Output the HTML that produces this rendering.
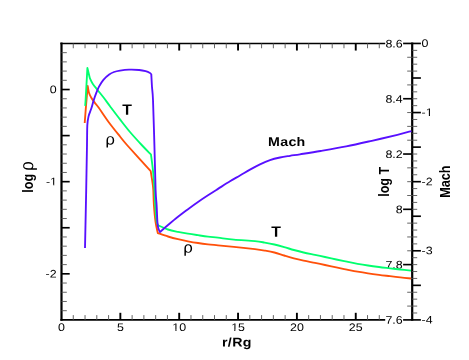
<!DOCTYPE html>
<html><head><meta charset="utf-8"><title>plot</title>
<style>html,body{margin:0;padding:0;background:#fff}svg{display:block;will-change:transform}text{font-family:"Liberation Sans",sans-serif;fill:#000}</style></head><body>
<svg width="469" height="360" viewBox="0 0 469 360">
<rect width="469" height="360" fill="#fff"/>
<line x1="61.50" y1="42.58" x2="61.50" y2="320.77" stroke="#000" stroke-width="2.2"/>
<line x1="412.20" y1="42.58" x2="412.20" y2="320.77" stroke="#000" stroke-width="2.2"/>
<line x1="60.40" y1="43.50" x2="385.20" y2="43.50" stroke="#000" stroke-width="1.5"/>
<line x1="60.40" y1="319.90" x2="385.20" y2="319.90" stroke="#000" stroke-width="1.75"/>
<line x1="73.27" y1="319.90" x2="73.27" y2="315.10" stroke="#555" stroke-width="0.9"/>
<line x1="73.27" y1="43.45" x2="73.27" y2="48.25" stroke="#555" stroke-width="0.9"/>
<line x1="85.04" y1="319.90" x2="85.04" y2="315.10" stroke="#555" stroke-width="0.9"/>
<line x1="85.04" y1="43.45" x2="85.04" y2="48.25" stroke="#555" stroke-width="0.9"/>
<line x1="96.81" y1="319.90" x2="96.81" y2="315.10" stroke="#555" stroke-width="0.9"/>
<line x1="96.81" y1="43.45" x2="96.81" y2="48.25" stroke="#555" stroke-width="0.9"/>
<line x1="108.58" y1="319.90" x2="108.58" y2="315.10" stroke="#555" stroke-width="0.9"/>
<line x1="108.58" y1="43.45" x2="108.58" y2="48.25" stroke="#555" stroke-width="0.9"/>
<line x1="120.35" y1="319.90" x2="120.35" y2="312.80" stroke="#000" stroke-width="1.9"/>
<line x1="120.35" y1="43.45" x2="120.35" y2="50.55" stroke="#000" stroke-width="1.9"/>
<line x1="132.12" y1="319.90" x2="132.12" y2="315.10" stroke="#555" stroke-width="0.9"/>
<line x1="132.12" y1="43.45" x2="132.12" y2="48.25" stroke="#555" stroke-width="0.9"/>
<line x1="143.89" y1="319.90" x2="143.89" y2="315.10" stroke="#555" stroke-width="0.9"/>
<line x1="143.89" y1="43.45" x2="143.89" y2="48.25" stroke="#555" stroke-width="0.9"/>
<line x1="155.66" y1="319.90" x2="155.66" y2="315.10" stroke="#555" stroke-width="0.9"/>
<line x1="155.66" y1="43.45" x2="155.66" y2="48.25" stroke="#555" stroke-width="0.9"/>
<line x1="167.43" y1="319.90" x2="167.43" y2="315.10" stroke="#555" stroke-width="0.9"/>
<line x1="167.43" y1="43.45" x2="167.43" y2="48.25" stroke="#555" stroke-width="0.9"/>
<line x1="179.20" y1="319.90" x2="179.20" y2="312.80" stroke="#000" stroke-width="1.9"/>
<line x1="179.20" y1="43.45" x2="179.20" y2="50.55" stroke="#000" stroke-width="1.9"/>
<line x1="190.97" y1="319.90" x2="190.97" y2="315.10" stroke="#555" stroke-width="0.9"/>
<line x1="190.97" y1="43.45" x2="190.97" y2="48.25" stroke="#555" stroke-width="0.9"/>
<line x1="202.74" y1="319.90" x2="202.74" y2="315.10" stroke="#555" stroke-width="0.9"/>
<line x1="202.74" y1="43.45" x2="202.74" y2="48.25" stroke="#555" stroke-width="0.9"/>
<line x1="214.51" y1="319.90" x2="214.51" y2="315.10" stroke="#555" stroke-width="0.9"/>
<line x1="214.51" y1="43.45" x2="214.51" y2="48.25" stroke="#555" stroke-width="0.9"/>
<line x1="226.28" y1="319.90" x2="226.28" y2="315.10" stroke="#555" stroke-width="0.9"/>
<line x1="226.28" y1="43.45" x2="226.28" y2="48.25" stroke="#555" stroke-width="0.9"/>
<line x1="238.05" y1="319.90" x2="238.05" y2="312.80" stroke="#000" stroke-width="1.9"/>
<line x1="238.05" y1="43.45" x2="238.05" y2="50.55" stroke="#000" stroke-width="1.9"/>
<line x1="249.82" y1="319.90" x2="249.82" y2="315.10" stroke="#555" stroke-width="0.9"/>
<line x1="249.82" y1="43.45" x2="249.82" y2="48.25" stroke="#555" stroke-width="0.9"/>
<line x1="261.59" y1="319.90" x2="261.59" y2="315.10" stroke="#555" stroke-width="0.9"/>
<line x1="261.59" y1="43.45" x2="261.59" y2="48.25" stroke="#555" stroke-width="0.9"/>
<line x1="273.36" y1="319.90" x2="273.36" y2="315.10" stroke="#555" stroke-width="0.9"/>
<line x1="273.36" y1="43.45" x2="273.36" y2="48.25" stroke="#555" stroke-width="0.9"/>
<line x1="285.13" y1="319.90" x2="285.13" y2="315.10" stroke="#555" stroke-width="0.9"/>
<line x1="285.13" y1="43.45" x2="285.13" y2="48.25" stroke="#555" stroke-width="0.9"/>
<line x1="296.90" y1="319.90" x2="296.90" y2="312.80" stroke="#000" stroke-width="1.9"/>
<line x1="296.90" y1="43.45" x2="296.90" y2="50.55" stroke="#000" stroke-width="1.9"/>
<line x1="308.67" y1="319.90" x2="308.67" y2="315.10" stroke="#555" stroke-width="0.9"/>
<line x1="308.67" y1="43.45" x2="308.67" y2="48.25" stroke="#555" stroke-width="0.9"/>
<line x1="320.44" y1="319.90" x2="320.44" y2="315.10" stroke="#555" stroke-width="0.9"/>
<line x1="320.44" y1="43.45" x2="320.44" y2="48.25" stroke="#555" stroke-width="0.9"/>
<line x1="332.21" y1="319.90" x2="332.21" y2="315.10" stroke="#555" stroke-width="0.9"/>
<line x1="332.21" y1="43.45" x2="332.21" y2="48.25" stroke="#555" stroke-width="0.9"/>
<line x1="343.98" y1="319.90" x2="343.98" y2="315.10" stroke="#555" stroke-width="0.9"/>
<line x1="343.98" y1="43.45" x2="343.98" y2="48.25" stroke="#555" stroke-width="0.9"/>
<line x1="355.75" y1="319.90" x2="355.75" y2="312.80" stroke="#000" stroke-width="1.9"/>
<line x1="355.75" y1="43.45" x2="355.75" y2="50.55" stroke="#000" stroke-width="1.9"/>
<line x1="367.52" y1="319.90" x2="367.52" y2="315.10" stroke="#555" stroke-width="0.9"/>
<line x1="367.52" y1="43.45" x2="367.52" y2="48.25" stroke="#555" stroke-width="0.9"/>
<line x1="379.29" y1="319.90" x2="379.29" y2="315.10" stroke="#555" stroke-width="0.9"/>
<line x1="379.29" y1="43.45" x2="379.29" y2="48.25" stroke="#555" stroke-width="0.9"/>
<line x1="61.50" y1="52.67" x2="66.80" y2="52.67" stroke="#555" stroke-width="0.9"/>
<line x1="61.50" y1="61.88" x2="66.80" y2="61.88" stroke="#555" stroke-width="0.9"/>
<line x1="61.50" y1="71.09" x2="66.80" y2="71.09" stroke="#555" stroke-width="0.9"/>
<line x1="61.50" y1="80.31" x2="66.80" y2="80.31" stroke="#555" stroke-width="0.9"/>
<line x1="61.50" y1="89.53" x2="69.70" y2="89.53" stroke="#000" stroke-width="1.65"/>
<line x1="61.50" y1="98.74" x2="66.80" y2="98.74" stroke="#555" stroke-width="0.9"/>
<line x1="61.50" y1="107.95" x2="66.80" y2="107.95" stroke="#555" stroke-width="0.9"/>
<line x1="61.50" y1="117.17" x2="66.80" y2="117.17" stroke="#555" stroke-width="0.9"/>
<line x1="61.50" y1="126.38" x2="66.80" y2="126.38" stroke="#555" stroke-width="0.9"/>
<line x1="61.50" y1="135.60" x2="69.70" y2="135.60" stroke="#000" stroke-width="1.65"/>
<line x1="61.50" y1="144.81" x2="66.80" y2="144.81" stroke="#555" stroke-width="0.9"/>
<line x1="61.50" y1="154.03" x2="66.80" y2="154.03" stroke="#555" stroke-width="0.9"/>
<line x1="61.50" y1="163.25" x2="66.80" y2="163.25" stroke="#555" stroke-width="0.9"/>
<line x1="61.50" y1="172.46" x2="66.80" y2="172.46" stroke="#555" stroke-width="0.9"/>
<line x1="61.50" y1="181.67" x2="69.70" y2="181.67" stroke="#000" stroke-width="1.65"/>
<line x1="61.50" y1="190.89" x2="66.80" y2="190.89" stroke="#555" stroke-width="0.9"/>
<line x1="61.50" y1="200.11" x2="66.80" y2="200.11" stroke="#555" stroke-width="0.9"/>
<line x1="61.50" y1="209.32" x2="66.80" y2="209.32" stroke="#555" stroke-width="0.9"/>
<line x1="61.50" y1="218.53" x2="66.80" y2="218.53" stroke="#555" stroke-width="0.9"/>
<line x1="61.50" y1="227.75" x2="69.70" y2="227.75" stroke="#000" stroke-width="1.65"/>
<line x1="61.50" y1="236.96" x2="66.80" y2="236.96" stroke="#555" stroke-width="0.9"/>
<line x1="61.50" y1="246.18" x2="66.80" y2="246.18" stroke="#555" stroke-width="0.9"/>
<line x1="61.50" y1="255.39" x2="66.80" y2="255.39" stroke="#555" stroke-width="0.9"/>
<line x1="61.50" y1="264.61" x2="66.80" y2="264.61" stroke="#555" stroke-width="0.9"/>
<line x1="61.50" y1="273.82" x2="69.70" y2="273.82" stroke="#000" stroke-width="1.65"/>
<line x1="61.50" y1="283.04" x2="66.80" y2="283.04" stroke="#555" stroke-width="0.9"/>
<line x1="61.50" y1="292.25" x2="66.80" y2="292.25" stroke="#555" stroke-width="0.9"/>
<line x1="61.50" y1="301.47" x2="66.80" y2="301.47" stroke="#555" stroke-width="0.9"/>
<line x1="61.50" y1="310.69" x2="66.80" y2="310.69" stroke="#555" stroke-width="0.9"/>
<line x1="412.20" y1="43.45" x2="403.10" y2="43.45" stroke="#000" stroke-width="1.65"/>
<line x1="412.20" y1="57.27" x2="407.20" y2="57.27" stroke="#555" stroke-width="0.9"/>
<line x1="412.20" y1="71.09" x2="407.20" y2="71.09" stroke="#555" stroke-width="0.9"/>
<line x1="412.20" y1="84.92" x2="407.20" y2="84.92" stroke="#555" stroke-width="0.9"/>
<line x1="412.20" y1="98.74" x2="403.10" y2="98.74" stroke="#000" stroke-width="1.65"/>
<line x1="412.20" y1="112.56" x2="407.20" y2="112.56" stroke="#555" stroke-width="0.9"/>
<line x1="412.20" y1="126.38" x2="407.20" y2="126.38" stroke="#555" stroke-width="0.9"/>
<line x1="412.20" y1="140.21" x2="407.20" y2="140.21" stroke="#555" stroke-width="0.9"/>
<line x1="412.20" y1="154.03" x2="403.10" y2="154.03" stroke="#000" stroke-width="1.65"/>
<line x1="412.20" y1="167.85" x2="407.20" y2="167.85" stroke="#555" stroke-width="0.9"/>
<line x1="412.20" y1="181.68" x2="407.20" y2="181.68" stroke="#555" stroke-width="0.9"/>
<line x1="412.20" y1="195.50" x2="407.20" y2="195.50" stroke="#555" stroke-width="0.9"/>
<line x1="412.20" y1="209.32" x2="403.10" y2="209.32" stroke="#000" stroke-width="1.65"/>
<line x1="412.20" y1="223.14" x2="407.20" y2="223.14" stroke="#555" stroke-width="0.9"/>
<line x1="412.20" y1="236.96" x2="407.20" y2="236.96" stroke="#555" stroke-width="0.9"/>
<line x1="412.20" y1="250.79" x2="407.20" y2="250.79" stroke="#555" stroke-width="0.9"/>
<line x1="412.20" y1="264.61" x2="403.10" y2="264.61" stroke="#000" stroke-width="1.65"/>
<line x1="412.20" y1="278.43" x2="407.20" y2="278.43" stroke="#555" stroke-width="0.9"/>
<line x1="412.20" y1="292.25" x2="407.20" y2="292.25" stroke="#555" stroke-width="0.9"/>
<line x1="412.20" y1="306.08" x2="407.20" y2="306.08" stroke="#555" stroke-width="0.9"/>
<line x1="412.20" y1="319.90" x2="403.10" y2="319.90" stroke="#000" stroke-width="1.65"/>
<line x1="412.20" y1="43.45" x2="420.90" y2="43.45" stroke="#000" stroke-width="1.65"/>
<line x1="412.20" y1="50.36" x2="417.20" y2="50.36" stroke="#555" stroke-width="0.9"/>
<line x1="412.20" y1="57.27" x2="417.20" y2="57.27" stroke="#555" stroke-width="0.9"/>
<line x1="412.20" y1="64.18" x2="417.20" y2="64.18" stroke="#555" stroke-width="0.9"/>
<line x1="412.20" y1="71.09" x2="417.20" y2="71.09" stroke="#555" stroke-width="0.9"/>
<line x1="412.20" y1="78.01" x2="420.90" y2="78.01" stroke="#000" stroke-width="1.65"/>
<line x1="412.20" y1="84.92" x2="417.20" y2="84.92" stroke="#555" stroke-width="0.9"/>
<line x1="412.20" y1="91.83" x2="417.20" y2="91.83" stroke="#555" stroke-width="0.9"/>
<line x1="412.20" y1="98.74" x2="417.20" y2="98.74" stroke="#555" stroke-width="0.9"/>
<line x1="412.20" y1="105.65" x2="417.20" y2="105.65" stroke="#555" stroke-width="0.9"/>
<line x1="412.20" y1="112.56" x2="420.90" y2="112.56" stroke="#000" stroke-width="1.65"/>
<line x1="412.20" y1="119.47" x2="417.20" y2="119.47" stroke="#555" stroke-width="0.9"/>
<line x1="412.20" y1="126.38" x2="417.20" y2="126.38" stroke="#555" stroke-width="0.9"/>
<line x1="412.20" y1="133.30" x2="417.20" y2="133.30" stroke="#555" stroke-width="0.9"/>
<line x1="412.20" y1="140.21" x2="417.20" y2="140.21" stroke="#555" stroke-width="0.9"/>
<line x1="412.20" y1="147.12" x2="420.90" y2="147.12" stroke="#000" stroke-width="1.65"/>
<line x1="412.20" y1="154.03" x2="417.20" y2="154.03" stroke="#555" stroke-width="0.9"/>
<line x1="412.20" y1="160.94" x2="417.20" y2="160.94" stroke="#555" stroke-width="0.9"/>
<line x1="412.20" y1="167.85" x2="417.20" y2="167.85" stroke="#555" stroke-width="0.9"/>
<line x1="412.20" y1="174.76" x2="417.20" y2="174.76" stroke="#555" stroke-width="0.9"/>
<line x1="412.20" y1="181.68" x2="420.90" y2="181.68" stroke="#000" stroke-width="1.65"/>
<line x1="412.20" y1="188.59" x2="417.20" y2="188.59" stroke="#555" stroke-width="0.9"/>
<line x1="412.20" y1="195.50" x2="417.20" y2="195.50" stroke="#555" stroke-width="0.9"/>
<line x1="412.20" y1="202.41" x2="417.20" y2="202.41" stroke="#555" stroke-width="0.9"/>
<line x1="412.20" y1="209.32" x2="417.20" y2="209.32" stroke="#555" stroke-width="0.9"/>
<line x1="412.20" y1="216.23" x2="420.90" y2="216.23" stroke="#000" stroke-width="1.65"/>
<line x1="412.20" y1="223.14" x2="417.20" y2="223.14" stroke="#555" stroke-width="0.9"/>
<line x1="412.20" y1="230.05" x2="417.20" y2="230.05" stroke="#555" stroke-width="0.9"/>
<line x1="412.20" y1="236.96" x2="417.20" y2="236.96" stroke="#555" stroke-width="0.9"/>
<line x1="412.20" y1="243.88" x2="417.20" y2="243.88" stroke="#555" stroke-width="0.9"/>
<line x1="412.20" y1="250.79" x2="420.90" y2="250.79" stroke="#000" stroke-width="1.65"/>
<line x1="412.20" y1="257.70" x2="417.20" y2="257.70" stroke="#555" stroke-width="0.9"/>
<line x1="412.20" y1="264.61" x2="417.20" y2="264.61" stroke="#555" stroke-width="0.9"/>
<line x1="412.20" y1="271.52" x2="417.20" y2="271.52" stroke="#555" stroke-width="0.9"/>
<line x1="412.20" y1="278.43" x2="417.20" y2="278.43" stroke="#555" stroke-width="0.9"/>
<line x1="412.20" y1="285.34" x2="420.90" y2="285.34" stroke="#000" stroke-width="1.65"/>
<line x1="412.20" y1="292.25" x2="417.20" y2="292.25" stroke="#555" stroke-width="0.9"/>
<line x1="412.20" y1="299.17" x2="417.20" y2="299.17" stroke="#555" stroke-width="0.9"/>
<line x1="412.20" y1="306.08" x2="417.20" y2="306.08" stroke="#555" stroke-width="0.9"/>
<line x1="412.20" y1="312.99" x2="417.20" y2="312.99" stroke="#555" stroke-width="0.9"/>
<line x1="412.20" y1="319.90" x2="420.90" y2="319.90" stroke="#000" stroke-width="1.65"/>
<text transform="translate(61.50,331.00) scale(1.13,1) rotate(0.05)" font-size="11.0" font-weight="normal" text-anchor="middle">0</text>
<text transform="translate(120.35,331.00) scale(1.13,1) rotate(0.05)" font-size="11.0" font-weight="normal" text-anchor="middle">5</text>
<text transform="translate(179.20,331.00) scale(1.13,1) rotate(0.05)" font-size="11.0" font-weight="normal" text-anchor="middle">10</text>
<text transform="translate(238.05,331.00) scale(1.13,1) rotate(0.05)" font-size="11.0" font-weight="normal" text-anchor="middle">15</text>
<text transform="translate(296.90,331.00) scale(1.13,1) rotate(0.05)" font-size="11.0" font-weight="normal" text-anchor="middle">20</text>
<text transform="translate(355.75,331.00) scale(1.13,1) rotate(0.05)" font-size="11.0" font-weight="normal" text-anchor="middle">25</text>
<text transform="translate(56.60,93.18) scale(1.13,1) rotate(0.05)" font-size="11.0" font-weight="normal" text-anchor="end">0</text>
<text transform="translate(57.00,185.32) scale(1.13,1) rotate(0.05)" font-size="11.0" font-weight="normal" text-anchor="end">-1</text>
<text transform="translate(56.60,277.47) scale(1.13,1) rotate(0.05)" font-size="11.0" font-weight="normal" text-anchor="end">-2</text>
<text transform="translate(402.70,47.40) scale(1.13,1) rotate(0.05)" font-size="11.0" font-weight="normal" text-anchor="end">8.6</text>
<text transform="translate(402.70,102.69) scale(1.13,1) rotate(0.05)" font-size="11.0" font-weight="normal" text-anchor="end">8.4</text>
<text transform="translate(402.70,157.98) scale(1.13,1) rotate(0.05)" font-size="11.0" font-weight="normal" text-anchor="end">8.2</text>
<text transform="translate(402.70,213.27) scale(1.13,1) rotate(0.05)" font-size="11.0" font-weight="normal" text-anchor="end">8</text>
<text transform="translate(402.70,268.56) scale(1.13,1) rotate(0.05)" font-size="11.0" font-weight="normal" text-anchor="end">7.8</text>
<text transform="translate(402.70,323.85) scale(1.13,1) rotate(0.05)" font-size="11.0" font-weight="normal" text-anchor="end">7.6</text>
<text transform="translate(421.60,46.95) scale(1.13,1) rotate(0.05)" font-size="11.0" font-weight="normal" text-anchor="start">0</text>
<text transform="translate(421.60,116.06) scale(1.13,1) rotate(0.05)" font-size="11.0" font-weight="normal" text-anchor="start">-1</text>
<text transform="translate(421.60,185.18) scale(1.13,1) rotate(0.05)" font-size="11.0" font-weight="normal" text-anchor="start">-2</text>
<text transform="translate(421.60,254.29) scale(1.13,1) rotate(0.05)" font-size="11.0" font-weight="normal" text-anchor="start">-3</text>
<text transform="translate(421.60,323.40) scale(1.13,1) rotate(0.05)" font-size="11.0" font-weight="normal" text-anchor="start">-4</text>
<rect x="172.53" y="329.68" width="2.86" height="2.42" fill="#fff"/>
<rect x="176.53" y="329.68" width="2.76" height="2.42" fill="#fff"/>
<rect x="231.38" y="329.68" width="2.86" height="2.42" fill="#fff"/>
<rect x="235.38" y="329.68" width="2.76" height="2.42" fill="#fff"/>
<rect x="50.33" y="184.00" width="2.86" height="2.42" fill="#fff"/>
<rect x="54.33" y="184.00" width="2.76" height="2.42" fill="#fff"/>
<rect x="425.98" y="114.74" width="2.86" height="2.42" fill="#fff"/>
<rect x="429.98" y="114.74" width="2.76" height="2.42" fill="#fff"/>
<path d="M84.70,123.00 C84.92,120.17 85.50,112.17 86.00,106.00 C86.50,99.83 87.42,89.33 87.70,86.00 C87.90,87.07 88.30,90.43 88.90,92.40 C89.50,94.37 90.33,96.10 91.30,97.80 C92.27,99.50 93.48,100.98 94.70,102.60 C95.92,104.22 96.32,104.32 98.60,107.50 C100.88,110.68 104.83,116.87 108.40,121.70 C111.97,126.53 116.90,132.62 120.00,136.50 C123.10,140.38 121.88,139.22 127.00,145.00 C132.12,150.78 146.75,166.83 150.70,171.20 C151.02,173.23 152.17,180.27 152.60,183.40 C153.03,186.53 153.08,186.40 153.30,190.00 C153.52,193.60 153.53,199.72 153.90,205.00 C154.27,210.28 154.85,217.02 155.50,221.70 C156.15,226.38 157.42,231.20 157.80,233.10 C159.50,233.67 164.63,235.48 168.00,236.50 C171.37,237.52 174.67,238.40 178.00,239.20 C181.33,240.00 184.67,240.67 188.00,241.30 C191.33,241.93 194.67,242.50 198.00,243.00 C201.33,243.50 204.67,243.92 208.00,244.30 C211.33,244.68 213.68,244.87 218.00,245.30 C222.32,245.73 227.73,246.25 233.90,246.90 C240.07,247.55 249.87,248.58 255.00,249.20 C260.13,249.82 261.47,250.05 264.70,250.60 C267.93,251.15 271.15,251.68 274.40,252.50 C277.65,253.32 280.95,254.53 284.20,255.50 C287.45,256.47 290.67,257.45 293.90,258.30 C297.13,259.15 300.08,259.83 303.60,260.60 C307.12,261.37 311.43,262.17 315.00,262.90 C318.57,263.63 321.45,264.25 325.00,265.00 C328.55,265.75 332.63,266.63 336.30,267.40 C339.97,268.17 343.45,268.88 347.00,269.60 C350.55,270.32 354.10,271.07 357.60,271.70 C361.10,272.33 364.43,272.87 368.00,273.40 C371.57,273.93 375.33,274.43 379.00,274.90 C382.67,275.37 386.45,275.78 390.00,276.20 C393.55,276.62 396.80,277.02 400.30,277.40 C403.80,277.78 409.22,278.32 411.00,278.50" fill="none" stroke="#ff500a" stroke-width="1.85" stroke-linejoin="round" stroke-linecap="butt"/>
<path d="M85.10,105.80 C85.18,104.83 85.22,106.30 85.60,100.00 C85.98,93.70 87.10,73.33 87.40,68.00 L89.80,78.00 C90.28,78.95 91.40,81.70 92.70,83.70 C94.00,85.70 95.82,87.73 97.60,90.00 C99.38,92.27 101.30,94.55 103.40,97.30 C105.50,100.05 107.43,102.82 110.20,106.50 C112.97,110.18 116.70,115.15 120.00,119.40 C123.30,123.65 126.38,127.73 130.00,132.00 C133.62,136.27 138.20,141.23 141.70,145.00 C145.20,148.77 149.45,153.00 151.00,154.60 C151.33,157.27 152.42,164.70 153.00,170.60 C153.58,176.50 154.13,184.27 154.50,190.00 C154.87,195.73 154.83,199.72 155.20,205.00 C155.57,210.28 156.15,218.28 156.70,221.70 C157.25,225.12 158.20,224.87 158.50,225.50 C160.08,226.17 164.75,228.43 168.00,229.50 C171.25,230.57 174.67,231.20 178.00,231.90 C181.33,232.60 184.67,233.15 188.00,233.70 C191.33,234.25 194.67,234.72 198.00,235.20 C201.33,235.68 204.67,236.18 208.00,236.60 C211.33,237.02 213.68,237.20 218.00,237.70 C222.32,238.20 227.73,239.02 233.90,239.60 C240.07,240.18 249.87,240.70 255.00,241.20 C260.13,241.70 261.47,242.05 264.70,242.60 C267.93,243.15 271.15,243.75 274.40,244.50 C277.65,245.25 280.95,246.18 284.20,247.10 C287.45,248.02 290.67,249.10 293.90,250.00 C297.13,250.90 300.08,251.68 303.60,252.50 C307.12,253.32 311.43,254.15 315.00,254.90 C318.57,255.65 321.45,256.23 325.00,257.00 C328.55,257.77 332.63,258.72 336.30,259.50 C339.97,260.28 343.45,260.98 347.00,261.70 C350.55,262.42 354.10,263.17 357.60,263.80 C361.10,264.43 364.43,264.97 368.00,265.50 C371.57,266.03 375.33,266.53 379.00,267.00 C382.67,267.47 386.45,267.88 390.00,268.30 C393.55,268.72 396.80,269.12 400.30,269.50 C403.80,269.88 409.22,270.42 411.00,270.60" fill="none" stroke="#00ff6e" stroke-width="1.85" stroke-linejoin="round" stroke-linecap="butt"/>
<path d="M85.00,247.90 C85.20,238.25 85.87,207.15 86.20,190.00 C86.53,172.85 86.82,155.73 87.00,145.00 C87.18,134.27 87.05,130.33 87.30,125.60 C87.55,120.87 87.83,119.45 88.50,116.60 C89.17,113.75 90.43,111.23 91.30,108.50 C92.17,105.77 92.90,102.72 93.70,100.20 C94.50,97.68 95.22,95.67 96.10,93.40 C96.98,91.13 97.78,88.87 99.00,86.60 C100.22,84.33 101.70,81.82 103.40,79.80 C105.10,77.78 107.43,75.80 109.20,74.50 C110.97,73.20 112.20,72.65 114.00,72.00 C115.80,71.35 117.50,70.98 120.00,70.60 C122.50,70.22 125.80,69.80 129.00,69.70 C132.20,69.60 136.43,69.75 139.20,70.00 C141.97,70.25 143.80,70.70 145.60,71.20 C147.40,71.70 149.05,72.47 150.00,73.00 C150.95,73.53 151.08,74.17 151.30,74.40 C151.42,76.50 151.72,82.73 152.00,87.00 C152.28,91.27 152.60,90.33 153.00,100.00 C153.40,109.67 153.97,130.00 154.40,145.00 C154.83,160.00 155.23,180.00 155.60,190.00 C155.97,200.00 156.30,199.72 156.60,205.00 C156.90,210.28 157.12,217.82 157.40,221.70 C157.68,225.58 157.87,226.58 158.30,228.30 C158.73,230.02 159.72,231.38 160.00,232.00 C161.33,230.83 165.00,227.55 168.00,225.00 C171.00,222.45 174.67,219.33 178.00,216.70 C181.33,214.07 184.67,211.65 188.00,209.20 C191.33,206.75 194.67,204.32 198.00,202.00 C201.33,199.68 204.67,197.48 208.00,195.30 C211.33,193.12 214.33,191.23 218.00,188.90 C221.67,186.57 226.33,183.53 230.00,181.30 C233.67,179.07 236.67,177.45 240.00,175.50 C243.33,173.55 246.67,171.47 250.00,169.60 C253.33,167.73 256.67,165.88 260.00,164.30 C263.33,162.72 266.67,161.23 270.00,160.10 C273.33,158.97 276.67,158.22 280.00,157.50 C283.33,156.78 286.67,156.33 290.00,155.80 C293.33,155.27 294.90,155.10 300.00,154.30 C305.10,153.50 312.90,152.32 320.60,151.00 C328.30,149.68 337.67,148.10 346.20,146.40 C354.73,144.70 363.27,142.73 371.80,140.80 C380.33,138.87 390.80,136.42 397.40,134.80 C404.00,133.18 409.07,131.72 411.40,131.10" fill="none" stroke="#5810ff" stroke-width="1.85" stroke-linejoin="round" stroke-linecap="butt"/>
<text transform="translate(127.05,114.80) scale(1.055,1) rotate(0.05)" font-size="15.0" font-weight="bold" text-anchor="middle">T</text>
<text transform="translate(276.10,236.80) scale(1.055,1) rotate(0.05)" font-size="15.0" font-weight="bold" text-anchor="middle">T</text>
<text transform="translate(286.80,146.10) scale(1.13,1) rotate(0.05)" font-size="12.6" font-weight="bold" text-anchor="middle" letter-spacing="0.25">Mach</text>
<text transform="translate(236.90,346.40) scale(1.13,1) rotate(0.05)" font-size="12.6" font-weight="bold" text-anchor="middle" letter-spacing="0.3">r/Rg</text>
<path transform="translate(107.25,144.70) scale(1.0,1) scale(1.900,1.080)" d="M 0.000,2.700 L 0.000,-4.000 C 0.000,-6.200 0.632,-7.450 1.579,-7.450 C 2.632,-7.450 3.263,-6.000 3.263,-3.900 C 3.263,-1.700 2.632,-0.400 1.579,-0.400 C 0.947,-0.400 0.368,-0.900 0.053,-1.900" fill="none" stroke="#000" stroke-width="0.78" stroke-linecap="butt" stroke-linejoin="round"><title>ρ</title></path>
<path transform="translate(185.15,252.80) scale(1.0,1) scale(1.900,1.080)" d="M 0.000,2.700 L 0.000,-4.000 C 0.000,-6.200 0.632,-7.450 1.579,-7.450 C 2.632,-7.450 3.263,-6.000 3.263,-3.900 C 3.263,-1.700 2.632,-0.400 1.579,-0.400 C 0.947,-0.400 0.368,-0.900 0.053,-1.900" fill="none" stroke="#000" stroke-width="0.78" stroke-linecap="butt" stroke-linejoin="round"><title>ρ</title></path>
<text transform="translate(33.40,192.70) scale(1.17,1) rotate(-90)" font-size="12.6" font-weight="bold" text-anchor="start">log</text>
<path transform="translate(33.40,168.95) scale(1.15,1) rotate(-90) scale(1.900,1.140)" d="M 0.000,2.700 L 0.000,-4.000 C 0.000,-6.200 0.632,-7.450 1.579,-7.450 C 2.632,-7.450 3.263,-6.000 3.263,-3.900 C 3.263,-1.700 2.632,-0.400 1.579,-0.400 C 0.947,-0.400 0.368,-0.900 0.053,-1.900" fill="none" stroke="#000" stroke-width="0.78" stroke-linecap="butt" stroke-linejoin="round"><title>ρ</title></path>
<text transform="translate(389.20,181.80) scale(1.2,1) rotate(-90)" font-size="12.6" font-weight="bold" text-anchor="middle">log T</text>
<text transform="translate(450.40,181.60) scale(1.15,1) rotate(-90)" font-size="12.6" font-weight="bold" text-anchor="middle">Mach</text>
</svg></body></html>
